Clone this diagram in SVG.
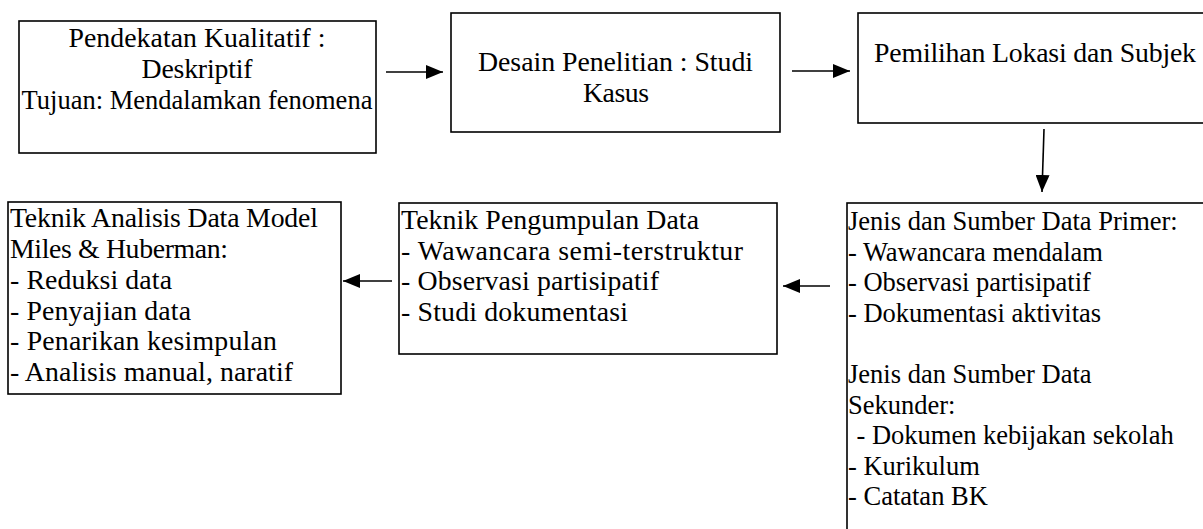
<svg xmlns="http://www.w3.org/2000/svg" width="1203" height="529" viewBox="0 0 1203 529">
<style>
.box{fill:#fff;stroke:#000;stroke-width:1.6}
.c{font-family:"Liberation Serif","Times New Roman",serif;font-size:27.8px;fill:#000}
.t{font-family:"Liberation Serif","Times New Roman",serif;font-size:26.5px;fill:#000}
.mid{text-anchor:middle}
.conn line{stroke:#000;stroke-width:1.6}
</style>
<defs>
<marker id="ah" markerUnits="userSpaceOnUse" markerWidth="18" markerHeight="14" refX="17" refY="7" orient="auto">
<path d="M0,0 L17,7 L0,14 Z" fill="#000"/>
</marker>
</defs>
<rect width="1203" height="529" fill="#fff"/>
<g id="n1">
<rect class="box" x="19" y="21" width="357" height="132"/>
<text class="c mid" x="197" y="47" textLength="257">Pendekatan Kualitatif :</text>
<text class="c mid" x="197" y="78" textLength="111">Deskriptif</text>
<text class="t mid" x="197" y="109">Tujuan: Mendalamkan fenomena</text>
</g>
<g id="n2">
<rect class="box" x="451" y="13" width="329" height="119"/>
<text class="c mid" x="615.5" y="71" textLength="275">Desain Penelitian : Studi</text>
<text class="c mid" x="616" y="102" textLength="66">Kasus</text>
</g>
<g id="n3">
<rect class="box" x="858" y="13" width="360" height="110"/>
<text class="c" x="874" y="62" textLength="322">Pemilihan Lokasi dan Subjek</text>
</g>
<g id="n4">
<rect class="box" x="8" y="202" width="333" height="192"/>
<text class="c" x="10" y="227" textLength="308">Teknik Analisis Data Model</text>
<text class="c" x="10" y="258" textLength="218">Miles &amp; Huberman:</text>
<text class="c" x="10" y="288.5" textLength="162">- Reduksi data</text>
<text class="c" x="10" y="319.5" textLength="181">- Penyajian data</text>
<text class="c" x="10" y="350" textLength="267">- Penarikan kesimpulan</text>
<text class="c" x="10" y="381" textLength="283">- Analisis manual, naratif</text>
</g>
<g id="n5">
<rect class="box" x="399" y="203" width="378" height="151"/>
<text class="c" x="401" y="229" textLength="298">Teknik Pengumpulan Data</text>
<text class="c" x="401" y="259.5" textLength="342">- Wawancara semi-terstruktur</text>
<text class="c" x="401" y="290" textLength="258">- Observasi partisipatif</text>
<text class="c" x="401" y="320.5" textLength="227">- Studi dokumentasi</text>
</g>
<g id="n6">
<rect class="box" x="847" y="203" width="370" height="340"/>
<text class="t" x="848" y="230">Jenis dan Sumber Data Primer:</text>
<text class="t" x="848" y="260.6">- Wawancara mendalam</text>
<text class="t" x="848" y="291.2">- Observasi partisipatif</text>
<text class="t" x="848" y="321.8">- Dokumentasi aktivitas</text>
<text class="t" x="848" y="383">Jenis dan Sumber Data</text>
<text class="t" x="848" y="413.6">Sekunder:</text>
<text class="t" x="856.5" y="444.2">- Dokumen kebijakan sekolah</text>
<text class="t" x="848" y="474.8">- Kurikulum</text>
<text class="t" x="848" y="505.4">- Catatan BK</text>
</g>
<g id="connectors" class="conn">
<line x1="386" y1="72" x2="443" y2="72" marker-end="url(#ah)"/>
<line x1="792" y1="71" x2="850" y2="71" marker-end="url(#ah)"/>
<line x1="1044" y1="129" x2="1042" y2="192" marker-end="url(#ah)"/>
<line x1="830" y1="286" x2="783" y2="286" marker-end="url(#ah)"/>
<line x1="392" y1="281" x2="343" y2="281" marker-end="url(#ah)"/>
</g>
</svg>
